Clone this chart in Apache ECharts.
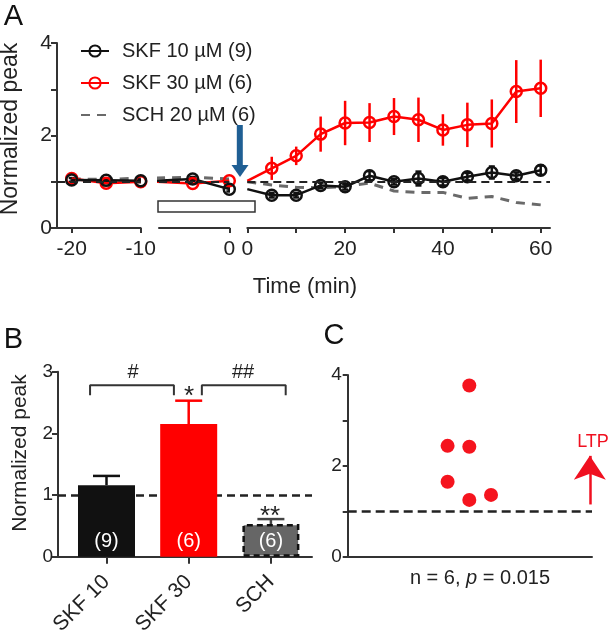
<!DOCTYPE html>
<html><head><meta charset="utf-8">
<script src="https://cdn.jsdelivr.net/npm/echarts@6/dist/echarts.min.js"></script>
<style>html,body{margin:0;padding:0;background:#fff}#c{width:610px;height:639px}</style>
</head><body><div id="c"></div>
<script>
const FONT = '"Liberation Sans", Arial, Helvetica, sans-serif';

// ---------- Panel A data ----------
const seriesNames = ['SKF 10 µM (9)', 'SKF 30 µM (6)', 'SCH 20 µM (6)'];
const timeSeg1 = [-20, -15, -10];
const timeSeg2 = [-10, -5, 0];
const timeSeg3 = [0, 5, 10, 15, 20, 25, 30, 35, 40, 45, 50, 55, 60];
const skf10Seg1 = [1.04, 1.03, 1.02];
const skf10Seg2 = [1.02, 1.06, 0.84];
const skf10Seg3 = [0.84, 0.71, 0.71, 0.92, 0.89, 1.13, 1.00, 1.07, 1.00, 1.11, 1.20, 1.13, 1.25];
const skf10Err1 = [0.04, 0.03, 0.03];
const skf10Err2 = [0, 0.04, 0.05];
const skf10Err3 = [0, 0.05, 0.05, 0.06, 0.06, 0.10, 0.06, 0.15, 0.08, 0.08, 0.13, 0.07, 0.10];
const skf30Seg1 = [1.07, 0.97, 1.00];
const skf30Seg2 = [1.00, 0.96, 1.02];
const skf30Seg3 = [1.02, 1.29, 1.56, 2.03, 2.27, 2.28, 2.41, 2.34, 2.12, 2.23, 2.26, 2.95, 3.02];
const skf30Err3 = [0, 0.25, 0.20, 0.38, 0.48, 0.42, 0.40, 0.48, 0.34, 0.48, 0.52, 0.68, 0.62];
const schSeg1 = [1.06, 1.05, 1.08];
const schSeg2 = [1.08, 1.10, 1.06];
const schSeg3 = [1.00, 0.93, 0.88, 0.87, 0.90, 0.97, 0.80, 0.77, 0.77, 0.64, 0.68, 0.55, 0.50];
const yTicksA = [0, 1, 2, 3, 4];
const yLabelsA = [0, 2, 4];
const xTicksA1 = [-20, -10];
const xTicksA2 = [0];
const xTicksA3 = [0, 10, 20, 30, 40, 50, 60];
const xLabelsA3 = [0, 20, 40, 60];

// ---------- Panel B data ----------
const groups = ['SKF 10', 'SKF 30', 'SCH'];
const barMean = [1.16, 2.15, 0.53];
const barSem = [0.15, 0.38, 0.08];
const nLabels = ['(9)', '(6)', '(6)'];
const yTicksB = [0, 1, 2, 3];
const bracket1 = [[-0.20, 2.62], [-0.20, 2.78], [0.82, 2.78], [0.82, 2.62]];
const bracket2 = [[1.16, 2.62], [1.16, 2.78], [2.18, 2.78], [2.18, 2.62]];

// ---------- Panel C data ----------
const cJitter = [-1, -1, 0, 0, 0, 1];
const cValues = [2.44, 1.65, 3.77, 2.42, 1.25, 1.36];
const yTicksC = [0, 1, 2, 3, 4];
const yLabelsC = [0, 2, 4];

// ---------- helpers ----------
const AX = '#333';
const RED = '#ff0000';
const BLK = '#111';
const GRAY = '#6a6a6a';
function pts(xs, ys, hideFirst) {
  return xs.map((x, i) => (hideFirst && i === 0) ? {value: [x, ys[i]], symbol: 'none'} : [x, ys[i]]);
}
function lineSer(name, idx, xs, ys, color, hideFirst) {
  return {type: 'line', name, xAxisIndex: idx, yAxisIndex: idx, data: pts(xs, ys, hideFirst),
    symbol: 'circle', symbolSize: 11, clip: true,
    lineStyle: {color, width: 2.5},
    itemStyle: {color: 'rgba(255,255,255,0)', borderColor: color, borderWidth: 2.5},
    emphasis: {disabled: true}, z: 3};
}
function schSer(idx, xs, ys) {
  return {type: 'line', name: seriesNames[2], xAxisIndex: idx, yAxisIndex: idx, data: pts(xs, ys, false),
    symbol: 'none', clip: true, lineStyle: {color: GRAY, width: 3, type: [9, 7]},
    itemStyle: {color: GRAY}, emphasis: {disabled: true}, z: 2,
    markLine: {silent: true, symbol: ['none', 'none'], label: {show: false},
      lineStyle: {color: '#222', width: 2, type: [8, 5]}, data: [{yAxis: 1}]}};
}
function errSer(idx, xs, ys, es, color, cap) {
  return {type: 'custom', xAxisIndex: idx, yAxisIndex: idx, silent: true, clip: true, z: 3,
    data: xs.map((x, i) => [x, ys[i], es[i]]),
    renderItem(params, api) {
      const x = api.value(0), y = api.value(1), e = api.value(2);
      if (!e) return null;
      const t = api.coord([x, y + e]), b = api.coord([x, y - e]);
      const ch = [{type: 'line', shape: {x1: t[0], y1: t[1], x2: b[0], y2: b[1]}, style: {stroke: color, lineWidth: 2.5}}];
      if (cap) {
        ch.push({type: 'line', shape: {x1: t[0] - cap, y1: t[1], x2: t[0] + cap, y2: t[1]}, style: {stroke: color, lineWidth: 2.5}});
        ch.push({type: 'line', shape: {x1: b[0] - cap, y1: b[1], x2: b[0] + cap, y2: b[1]}, style: {stroke: color, lineWidth: 2.5}});
      }
      return {type: 'group', children: ch};
    }};
}
const axLine = {show: true, onZero: false, lineStyle: {color: AX, width: 2}};
function tick(vals, len) { return {show: true, customValues: vals, length: len, lineStyle: {color: AX, width: 2}}; }
function lab(vals, size, margin, extra) { return Object.assign({show: true, customValues: vals, fontSize: size, margin, color: '#222', fontFamily: FONT}, extra || {}); }

const gA = {top: 43, height: 185};
const option = {
  animation: false,
  backgroundColor: '#fff',
  textStyle: {fontFamily: FONT},
  grid: [
    Object.assign({left: 57, width: 83.7}, gA),
    Object.assign({left: 159, width: 70.3}, gA),
    Object.assign({left: 247.3, width: 302.7}, gA),
    {left: 58, top: 371.7, width: 254, height: 185},
    {left: 347.7, top: 375, width: 244.3, height: 181.7}
  ],
  xAxis: [
    {type: 'value', gridIndex: 0, min: -22.13, max: -10, axisLine: axLine, axisTick: tick(xTicksA1, 5), axisLabel: lab(xTicksA1, 21, 11), splitLine: {show: false}},
    {type: 'value', gridIndex: 1, min: -9.6, max: 0, axisLine: axLine, axisTick: tick(xTicksA2, 5), axisLabel: lab(xTicksA2, 21, 11), splitLine: {show: false}},
    {type: 'value', gridIndex: 2, min: 0, max: 61.9, axisLine: axLine, axisTick: tick(xTicksA3, 5), axisLabel: lab(xLabelsA3, 21, 11), splitLine: {show: false}},
    {type: 'value', gridIndex: 3, min: -0.59, max: 2.5, axisLine: axLine, axisTick: tick([0, 1, 2], 7),
      axisLabel: lab([0, 1, 2], 21, 22, {rotate: 45, formatter: v => groups[v]}), splitLine: {show: false}},
    {type: 'value', gridIndex: 4, min: -5.6, max: 5.65, axisLine: axLine, axisTick: {show: false}, axisLabel: {show: false}, splitLine: {show: false}}
  ],
  yAxis: [
    {type: 'value', gridIndex: 0, min: 0, max: 4, axisLine: axLine, axisTick: tick(yTicksA, 6), axisLabel: lab(yLabelsA, 21, 5), splitLine: {show: false}},
    {type: 'value', gridIndex: 1, min: 0, max: 4, show: false},
    {type: 'value', gridIndex: 2, min: 0, max: 4, show: false},
    {type: 'value', gridIndex: 3, min: 0, max: 3, axisLine: axLine, axisTick: tick(yTicksB, 6), axisLabel: lab(yTicksB, 19, 5), splitLine: {show: false}},
    {type: 'value', gridIndex: 4, min: 0, max: 4, axisLine: axLine, axisTick: tick(yTicksC, 5), axisLabel: lab(yLabelsC, 19, 6), splitLine: {show: false}}
  ],
  legend: {data: [seriesNames[0], seriesNames[1], {name: seriesNames[2], itemStyle: {opacity: 0}}],
    orient: 'vertical', left: 75, top: 36, itemWidth: 28, itemHeight: 14, itemGap: 12,
    selectedMode: false, textStyle: {fontSize: 20, color: '#222', fontFamily: FONT, padding: [0, 0, 0, 8]}},
  series: [
    // segment 1
    schSer(0, timeSeg1, schSeg1),
    lineSer(seriesNames[1], 0, timeSeg1, skf30Seg1, RED, false),
    errSer(0, timeSeg1, skf10Seg1, skf10Err1, BLK, 3),
    lineSer(seriesNames[0], 0, timeSeg1, skf10Seg1, BLK, false),
    // segment 2
    schSer(1, timeSeg2, schSeg2),
    lineSer(seriesNames[1], 1, timeSeg2, skf30Seg2, RED, true),
    errSer(1, timeSeg2, skf10Seg2, skf10Err2, BLK, 3),
    lineSer(seriesNames[0], 1, timeSeg2, skf10Seg2, BLK, true),
    // segment 3
    schSer(2, timeSeg3, schSeg3),
    errSer(2, timeSeg3, skf30Seg3, skf30Err3, RED, 0),
    lineSer(seriesNames[1], 2, timeSeg3, skf30Seg3, RED, true),
    errSer(2, timeSeg3, skf10Seg3, skf10Err3, BLK, 3),
    lineSer(seriesNames[0], 2, timeSeg3, skf10Seg3, BLK, true),
    // panel B
    {type: 'bar', xAxisIndex: 3, yAxisIndex: 3, barWidth: 57, z: 2,
      data: groups.map((g, i) => ({value: [i, barMean[i]],
        itemStyle: i === 2 ? {color: '#666', borderColor: BLK, borderWidth: 2.5, borderType: [6, 4]} : {color: i === 0 ? BLK : RED}})),
      label: {show: true, position: 'insideBottom', distance: 5, color: '#fff', fontSize: 20, fontFamily: FONT,
        formatter: p => nLabels[p.dataIndex]},
      markLine: {silent: true, z: 1, symbol: ['none', 'none'], label: {show: false},
        lineStyle: {color: '#222', width: 2.5, type: [8, 5]}, data: [{yAxis: 1}]}},
    {type: 'custom', xAxisIndex: 3, yAxisIndex: 3, silent: true, z: 3,
      data: groups.map((g, i) => [i, barMean[i], barSem[i]]),
      renderItem(params, api) {
        const i = api.value(0);
        const color = [BLK, RED, '#444'][i];
        const b = api.coord([i, api.value(1)]), t = api.coord([i, api.value(1) + api.value(2)]);
        return {type: 'group', children: [
          {type: 'line', shape: {x1: b[0], y1: b[1], x2: t[0], y2: t[1]}, style: {stroke: color, lineWidth: 2.5}},
          {type: 'line', shape: {x1: t[0] - 13.5, y1: t[1], x2: t[0] + 13.5, y2: t[1]}, style: {stroke: color, lineWidth: 2.5}}
        ]};
      }},
    {type: 'line', xAxisIndex: 3, yAxisIndex: 3, data: bracket1, symbol: 'none', silent: true, z: 3,
      lineStyle: {color: '#333', width: 2}},
    {type: 'line', xAxisIndex: 3, yAxisIndex: 3, data: bracket2, symbol: 'none', silent: true, z: 3,
      lineStyle: {color: '#333', width: 2}},
    // panel C
    {type: 'scatter', xAxisIndex: 4, yAxisIndex: 4, data: cJitter.map((x, i) => [x, cValues[i]]),
      symbolSize: 14, itemStyle: {color: '#f5141e', opacity: 1}, z: 3,
      markLine: {silent: true, symbol: ['none', 'none'], label: {show: false}, z: 2,
        data: [
          {yAxis: 1, lineStyle: {color: '#222', width: 2.5, type: [9, 5]}},
          [{coord: [5.55, 1.15], symbol: 'none', lineStyle: {color: '#f01020', width: 2.5, type: 'solid'}},
           {coord: [5.55, 2.22], symbol: 'arrow', symbolSize: 24}]
        ]}}
  ],
  graphic: [
    {type: 'text', x: 13.5, y: 17, style: {text: 'A', fontSize: 29, fontFamily: FONT, fill: '#111', align: 'center', verticalAlign: 'middle'}},
    {type: 'text', x: 13.5, y: 340, style: {text: 'B', fontSize: 29, fontFamily: FONT, fill: '#111', align: 'center', verticalAlign: 'middle'}},
    {type: 'text', x: 334, y: 336, style: {text: 'C', fontSize: 29, fontFamily: FONT, fill: '#111', align: 'center', verticalAlign: 'middle'}},
    {type: 'text', x: 11, y: 129, rotation: Math.PI / 2, style: {text: 'Normalized peak', fontSize: 23, fontFamily: FONT, fill: '#222', align: 'center', verticalAlign: 'middle'}},
    {type: 'text', x: 20, y: 453, rotation: Math.PI / 2, style: {text: 'Normalized peak', fontSize: 21, fontFamily: FONT, fill: '#222', align: 'center', verticalAlign: 'middle'}},
    {type: 'text', x: 305, y: 287, style: {text: 'Time (min)', fontSize: 22, fontFamily: FONT, fill: '#222', align: 'center', verticalAlign: 'middle'}},
    {type: 'rect', shape: {x: 158, y: 201, width: 97, height: 11}, style: {fill: '#fff', stroke: '#333', lineWidth: 1.5}, z: 10},
    {type: 'rect', shape: {x: 236.8, y: 125, width: 6, height: 41}, style: {fill: '#1f5f94'}, z: 10},
    {type: 'polygon', shape: {points: [[231.5, 165], [248.5, 165], [240, 177]]}, style: {fill: '#1f5f94'}, z: 10},
    {type: 'text', x: 133, y: 372, style: {text: '#', fontSize: 20, fontFamily: FONT, fill: '#222', align: 'center', verticalAlign: 'middle'}},
    {type: 'text', x: 243, y: 372, style: {text: '##', fontSize: 20, fontFamily: FONT, fill: '#222', align: 'center', verticalAlign: 'middle'}},
    {type: 'text', x: 189, y: 397, style: {text: '*', fontSize: 26, fontFamily: FONT, fill: '#222', align: 'center', verticalAlign: 'middle'}},
    {type: 'text', x: 270, y: 517, style: {text: '**', fontSize: 26, fontFamily: FONT, fill: '#222', align: 'center', verticalAlign: 'middle'}},
    {type: 'text', x: 593, y: 442, style: {text: 'LTP', fontSize: 18, fontFamily: FONT, fill: '#f01020', align: 'center', verticalAlign: 'middle'}},
    {type: 'text', x: 480, y: 578, style: {text: 'n = 6, {i|p} = 0.015', fontSize: 20, fontFamily: FONT, fill: '#222', align: 'center', verticalAlign: 'middle',
      rich: {i: {fontStyle: 'italic', fontSize: 20, fontFamily: FONT, fill: '#222'}}}}
  ]
};
const chart = echarts.init(document.getElementById('c'), null, {renderer: 'canvas'});
chart.setOption(option);
</script></body></html>
